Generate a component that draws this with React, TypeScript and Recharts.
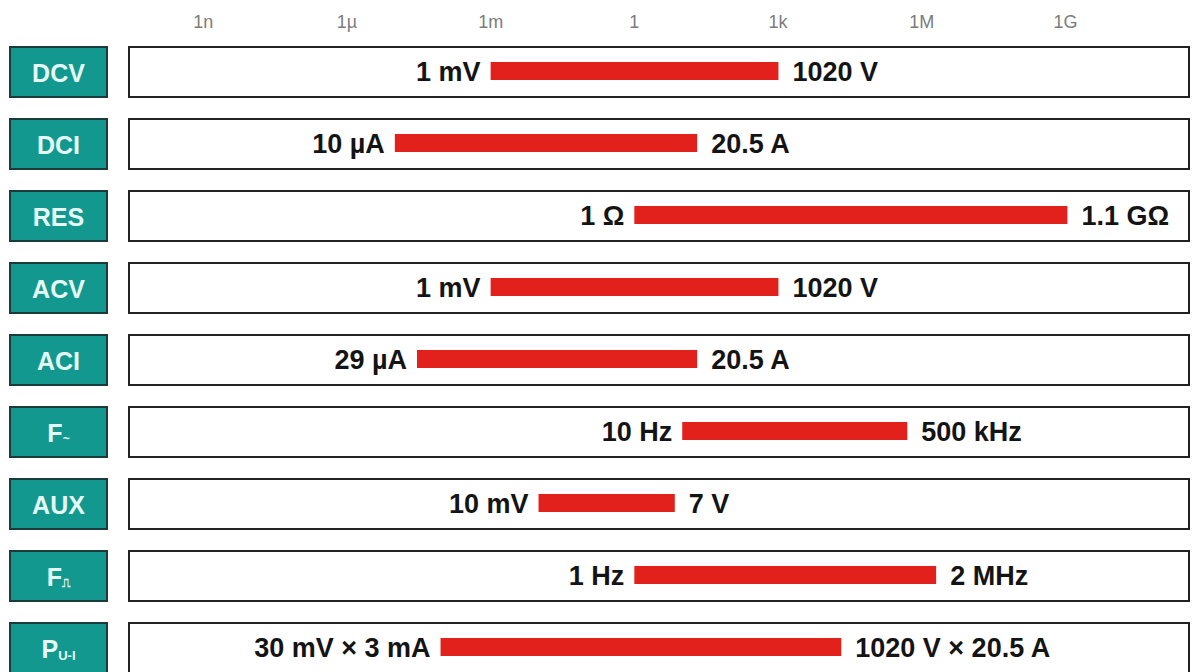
import React from 'react';
import { BarChart, Bar, XAxis, YAxis, LabelList } from 'recharts';

document.body.style.margin = '0';

// measurement functions (main name + small subscript)
const funcNames = ['DCV', 'DCI', 'RES', 'ACV', 'ACI', 'F', 'AUX', 'F', 'P'];
const funcSubs = ['', '', '', '', '', '~', '', '⎍', 'U-I'];

// range limits, in base units
const minValues = [1e-3, 10e-6, 1, 1e-3, 29e-6, 10, 10e-3, 1, 9e-5];
const maxValues = [1020, 20.5, 1.1e9, 1020, 20.5, 500e3, 7, 2e6, 20910];
const minLabels = ['1 mV', '10 µA', '1 Ω', '1 mV', '29 µA', '10 Hz', '10 mV', '1 Hz', '30 mV × 3 mA'];
const maxLabels = ['1020 V', '20.5 A', '1.1 GΩ', '1020 V', '20.5 A', '500 kHz', '7 V', '2 MHz', '1020 V × 20.5 A'];

// axis ticks (decades)
const tickExps = [-9, -6, -3, 0, 3, 6, 9];
const tickLabels = ['1n', '1µ', '1m', '1', '1k', '1M', '1G'];

const data = funcNames.map((n, i) => ({
  name: n + funcSubs[i],
  main: n,
  sub: funcSubs[i],
  range: [Math.log10(minValues[i]), Math.log10(maxValues[i])],
  minLabel: minLabels[i],
  maxLabel: maxLabels[i],
}));

const FONT = '"Liberation Sans", Arial, sans-serif';

const FuncTick = (props: any) => {
  const { y, payload } = props;
  const row = data.find(d => d.name === payload.value);
  const hasSub = row && row.sub;
  return (
    <g>
      <rect x={10} y={y - 25} width={97} height={50} fill="#12988f" stroke="#1d3b38" strokeWidth={2} />
      <text
        x={58.5}
        y={y + 1}
        textAnchor="middle"
        dominantBaseline="central"
        fill="#e6f8f3"
        fontFamily={FONT}
        fontWeight="bold"
        fontSize={25}
      >
        {row ? row.main : payload.value}
        {hasSub ? (
          <tspan fontSize={row!.sub === 'U-I' ? 13 : 12} dy={6} fontFamily={row!.sub === '⎍' ? '"DejaVu Sans", sans-serif' : FONT}>
            {row!.sub}
          </tspan>
        ) : null}
      </text>
    </g>
  );
};

const RangeShape = (props: any) => {
  const { x, y, width, height } = props;
  return <rect x={x} y={y + height / 2 - 10} width={width} height={18} fill="#e3211c" />;
};

const MinLabel = (props: any) => {
  const { x, y, height, value } = props;
  return (
    <text x={x - 10} y={y + height / 2} textAnchor="end" dominantBaseline="central"
      fill="#141414" fontFamily={FONT} fontWeight="bold" fontSize={27}>
      {value}
    </text>
  );
};

const MaxLabel = (props: any) => {
  const { x, y, width, height, value } = props;
  return (
    <text x={x + width + 14} y={y + height / 2} textAnchor="start" dominantBaseline="central"
      fill="#141414" fontFamily={FONT} fontWeight="bold" fontSize={27}>
      {value}
    </text>
  );
};

export default function App() {
  return (
    <div style={{ width: 1193, height: 672, overflow: 'hidden', background: '#fff' }}>
      <BarChart
        width={1193}
        height={684}
        data={data}
        layout="vertical"
        margin={{ top: 0, right: 4, bottom: 0, left: 0 }}
        barCategoryGap={22}
      >
        <XAxis
          type="number"
          orientation="top"
          domain={[-10.55, 11.58]}
          ticks={tickExps}
          tickFormatter={(v: number) => tickLabels[tickExps.indexOf(v)]}
          axisLine={false}
          tickLine={false}
          height={36}
          tick={{ fill: '#7c7c7c', fontSize: 18, fontFamily: FONT }}
          allowDataOverflow
        />
        <YAxis
          type="category"
          dataKey="name"
          width={129}
          axisLine={false}
          tickLine={false}
          tick={<FuncTick />}
        />
        <Bar
          dataKey="range"
          barSize={50}
          isAnimationActive={false}
          background={{ fill: '#ffffff', stroke: '#222222', strokeWidth: 2 }}
          shape={<RangeShape />}
        >
          <LabelList dataKey="minLabel" content={<MinLabel />} />
          <LabelList dataKey="maxLabel" content={<MaxLabel />} />
        </Bar>
      </BarChart>
    </div>
  );
}
